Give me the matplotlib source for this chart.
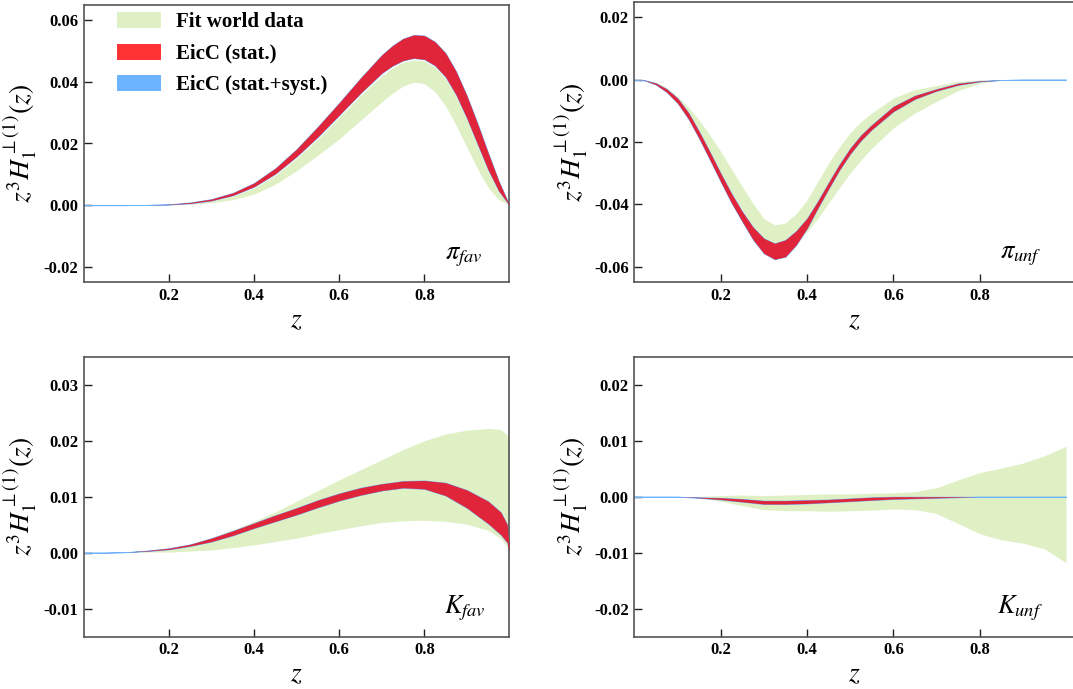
import numpy as np
import matplotlib
matplotlib.use("Agg")
import matplotlib.pyplot as plt
from matplotlib.patches import Patch

plt.rcParams['font.family'] = ['Liberation Serif', 'DejaVu Serif']
plt.rcParams['mathtext.fontset'] = 'stix'

# ---------------- data ----------------
# pi favoured
z_pif = [0, 0.05, 0.1, 0.15, 0.2, 0.25, 0.3, 0.35, 0.4, 0.45, 0.5, 0.55, 0.6, 0.65, 0.7, 0.725, 0.75, 0.775, 0.8, 0.825, 0.85, 0.875, 0.9, 0.925, 0.95, 0.975, 1.0]
pif_stat_hi = [0, 0, 0.00001, 0.0001, 0.0003, 0.0009, 0.0020, 0.0040, 0.0072, 0.0120, 0.0182, 0.0255, 0.0332, 0.0412, 0.0487, 0.0517, 0.0540, 0.0552, 0.0550, 0.0530, 0.0493, 0.0433, 0.0355, 0.0265, 0.0170, 0.0078, 0]
pif_stat_lo = [0, 0, 0.00001, 0.0001, 0.0002, 0.0006, 0.0015, 0.0032, 0.0060, 0.0102, 0.0158, 0.0222, 0.0292, 0.0363, 0.0428, 0.0452, 0.0469, 0.0477, 0.0473, 0.0453, 0.0416, 0.0357, 0.0282, 0.0198, 0.0115, 0.0046, 0]
pif_fit_hi = [0, 0, 0, 0.0001, 0.0002, 0.0005, 0.0013, 0.0029, 0.0056, 0.0097, 0.0152, 0.0215, 0.0285, 0.0355, 0.0420, 0.0445, 0.0463, 0.0471, 0.0468, 0.0448, 0.0411, 0.0352, 0.0277, 0.0193, 0.0110, 0.0042, 0]
pif_fit_lo = [0, 0, 0, 0.00005, 0.0001, 0.0003, 0.0008, 0.0018, 0.0036, 0.0068, 0.0112, 0.0162, 0.0215, 0.0275, 0.0335, 0.0363, 0.0386, 0.0399, 0.0394, 0.0368, 0.0322, 0.0258, 0.0188, 0.0118, 0.0058, 0.0018, 0]

# pi unfavoured
z_piu = [0, 0.025, 0.05, 0.075, 0.1, 0.125, 0.15, 0.175, 0.2, 0.225, 0.25, 0.275, 0.3, 0.325, 0.35, 0.375, 0.4, 0.425, 0.45, 0.475, 0.5, 0.525, 0.55, 0.6, 0.65, 0.7, 0.75, 0.8, 0.85, 0.9, 1.0]
piu_stat_hi = [0, -0.0002, -0.0011, -0.0030, -0.0059, -0.0105, -0.0166, -0.0232, -0.0300, -0.0365, -0.0423, -0.0473, -0.0509, -0.0525, -0.0514, -0.0485, -0.0445, -0.0390, -0.0330, -0.0272, -0.0220, -0.0178, -0.0145, -0.0086, -0.0051, -0.0030, -0.0012, -0.0004, -0.0001, 0, 0]
piu_stat_lo = [0, -0.0003, -0.0016, -0.0040, -0.0075, -0.0125, -0.0188, -0.0257, -0.0327, -0.0395, -0.0455, -0.0513, -0.0557, -0.0576, -0.0568, -0.0530, -0.0477, -0.0412, -0.0350, -0.0290, -0.0238, -0.0195, -0.0160, -0.0102, -0.0062, -0.0036, -0.0017, -0.0006, -0.0001, 0, 0]
piu_fit_hi = [0, -0.0002, -0.0008, -0.0025, -0.0054, -0.0088, -0.0129, -0.0178, -0.0230, -0.0287, -0.0343, -0.0398, -0.0445, -0.0466, -0.0460, -0.0430, -0.0386, -0.0327, -0.0268, -0.0216, -0.0170, -0.0135, -0.0107, -0.0059, -0.0032, -0.0019, -0.0005, -0.0001, 0, 0, 0]
piu_fit_lo = [0, -0.0003, -0.0015, -0.0035, -0.0066, -0.0112, -0.0166, -0.0232, -0.0300, -0.0362, -0.0418, -0.0470, -0.0509, -0.0525, -0.0522, -0.0510, -0.0488, -0.0445, -0.0396, -0.0347, -0.0300, -0.0258, -0.0220, -0.0155, -0.0107, -0.0070, -0.0035, -0.0012, -0.0003, 0, 0]

# K favoured
z_kf = [0, 0.05, 0.1, 0.15, 0.2, 0.25, 0.3, 0.35, 0.4, 0.45, 0.5, 0.55, 0.6, 0.65, 0.7, 0.75, 0.8, 0.85, 0.9, 0.95, 0.98, 0.995, 1.0]
kf_stat_hi = [0, 0.00002, 0.0001, 0.0004, 0.0008, 0.0015, 0.0026, 0.0039, 0.0053, 0.0067, 0.0080, 0.0094, 0.0106, 0.0116, 0.0123, 0.0128, 0.0129, 0.0125, 0.0112, 0.0092, 0.0072, 0.0050, 0.0]
kf_stat_lo = [0, 0.00001, 0.0001, 0.0003, 0.0006, 0.0012, 0.0020, 0.0031, 0.0044, 0.0056, 0.0068, 0.0081, 0.0093, 0.0103, 0.0111, 0.0116, 0.0114, 0.0102, 0.0080, 0.0052, 0.0032, 0.0018, 0.0]
kf_fit_hi = [0, 0.00002, 0.0001, 0.0004, 0.0008, 0.0016, 0.0027, 0.0041, 0.0056, 0.0073, 0.0092, 0.0111, 0.0130, 0.0148, 0.0166, 0.0184, 0.0200, 0.0212, 0.0219, 0.0222, 0.0220, 0.0210, 0.0200]
kf_fit_lo = [0, 0, 0.00003, 0.0001, 0.0001, 0.0003, 0.0005, 0.0009, 0.0014, 0.0020, 0.0026, 0.0034, 0.0041, 0.0048, 0.0054, 0.0057, 0.0058, 0.0056, 0.0051, 0.0040, 0.0025, 0.0010, -0.0025]

# K unfavoured
z_ku = [0, 0.05, 0.1, 0.15, 0.2, 0.25, 0.3, 0.35, 0.4, 0.45, 0.5, 0.55, 0.6, 0.65, 0.7, 0.75, 0.8, 0.85, 0.9, 0.95, 1.0]
ku_stat_hi = [0, 0, 0, -0.0001, -0.0002, -0.0004, -0.0007, -0.0007, -0.0006, -0.0005, -0.0003, -0.0001, 0, 0, 0, 0, 0, 0, 0, 0, 0]
ku_stat_lo = [0, 0, 0, -0.0002, -0.0005, -0.0009, -0.0013, -0.0013, -0.0012, -0.0010, -0.0008, -0.0006, -0.0004, -0.0003, -0.0002, -0.0001, 0, 0, 0, 0, 0]
ku_fit_hi = [0, 0, 0, 0.00005, 0.0002, 0.0003, 0.0002, 0.0003, 0.0004, 0.0005, 0.0005, 0.0006, 0.0007, 0.0009, 0.0016, 0.0030, 0.0043, 0.0051, 0.0060, 0.0073, 0.0090]
ku_fit_lo = [0, 0, 0, -0.0002, -0.0008, -0.0016, -0.0023, -0.0025, -0.0025, -0.0026, -0.0025, -0.0024, -0.0022, -0.0023, -0.0030, -0.0048, -0.0066, -0.0077, -0.0083, -0.0093, -0.0118]

legend_labels = ["Fit world data", "EicC (stat.)", "EicC (stat.+syst.)"]
panel_labels = [r"$\pi_{fav}$", r"$\pi_{unf}$", r"$K_{fav}$", r"$K_{unf}$"]
x_ticks = [0.2, 0.4, 0.6, 0.8]

# ---------------- style ----------------
C_FIT = '#dff0c5'
C_STAT = '#e0253a'
C_SYST = '#6cb4ff'
LEG_STAT = '#ff3333'

W, H = 1073, 689
fig = plt.figure(figsize=(W / 100, H / 100), dpi=100)

def ax_at(x0, y0, x1, y1):
    return fig.add_axes([x0 / W, 1 - y1 / H, (x1 - x0) / W, (y1 - y0) / H])

axes = [
    ax_at(83.9, 4.7, 509.4, 282.3),
    ax_at(634.3, 1.7, 634.3 + 431.7 * 1.02, 282.3),
    ax_at(83.9, 356.7, 509.4, 636.7),
    ax_at(634.3, 356.7, 634.3 + 431.7 * 1.02, 636.7),
]

panels = [
    (z_pif, pif_fit_lo, pif_fit_hi, pif_stat_lo, pif_stat_hi, (-0.025, 0.065), [-0.02, 0.0, 0.02, 0.04, 0.06], (0.0, 1.0), 0.938, 0.084),
    (z_piu, piu_fit_lo, piu_fit_hi, piu_stat_lo, piu_stat_hi, (-0.065, 0.025), [-0.06, -0.04, -0.02, 0.0, 0.02], (0.0, 1.02), 0.926, 0.084),
    (z_kf, kf_fit_lo, kf_fit_hi, kf_stat_lo, kf_stat_hi, (-0.015, 0.035), [-0.01, 0.0, 0.01, 0.02, 0.03], (0.0, 1.0), 0.945, 0.085),
    (z_ku, ku_fit_lo, ku_fit_hi, ku_stat_lo, ku_stat_hi, (-0.025, 0.025), [-0.02, -0.01, 0.0, 0.01, 0.02], (0.0, 1.02), 0.929, 0.085),
]

for ax, (z, flo, fhi, slo, shi, ylim, yt, xlim, tx, ty), lab in zip(axes, panels, panel_labels):
    z = np.asarray(z)
    ax.fill_between(z, flo, fhi, color=C_FIT, lw=0, zorder=1)
    ax.fill_between(z, slo, shi, facecolor=C_SYST, edgecolor=C_SYST, lw=0.6, zorder=2)
    ax.fill_between(z, slo, shi, color=C_STAT, lw=0, zorder=3)
    ax.set_xlim(*xlim)
    ax.set_ylim(*ylim)
    ax.set_xticks(x_ticks)
    ax.set_xticklabels(["%.1f" % t for t in x_ticks])
    ax.set_yticks(yt)
    ax.set_yticklabels(["%.2f" % t for t in yt])
    ax.tick_params(direction='in', length=6, width=1.0, labelsize=12, pad=4, color='#222222')
    for t in ax.get_xticklabels() + ax.get_yticklabels():
        t.set_fontweight('bold')
    for s in ax.spines.values():
        s.set_color('#555555')
        s.set_linewidth(1.2)
    ax.set_xlabel(r"$z$", fontsize=20, labelpad=3)
    ax.set_ylabel(r"$z^3H_1^{\perp(1)}(z)$", fontsize=20, labelpad=3)
    ax.text(tx, ty, lab, transform=ax.transAxes, ha='right', va='baseline', fontsize=19)

handles = [Patch(facecolor=C_FIT, edgecolor='none'),
           Patch(facecolor=LEG_STAT, edgecolor='none'),
           Patch(facecolor=C_SYST, edgecolor='none')]
axes[0].legend(handles, legend_labels, loc='upper left', bbox_to_anchor=(0.078, 0.974),
               frameon=False, prop={'family': 'Liberation Serif', 'weight': 'bold', 'size': 15},
               handlelength=2.1, handleheight=0.8, handletextpad=0.75, labelspacing=0.55,
               borderpad=0, borderaxespad=0)

fig.savefig("out.png", dpi=100)
